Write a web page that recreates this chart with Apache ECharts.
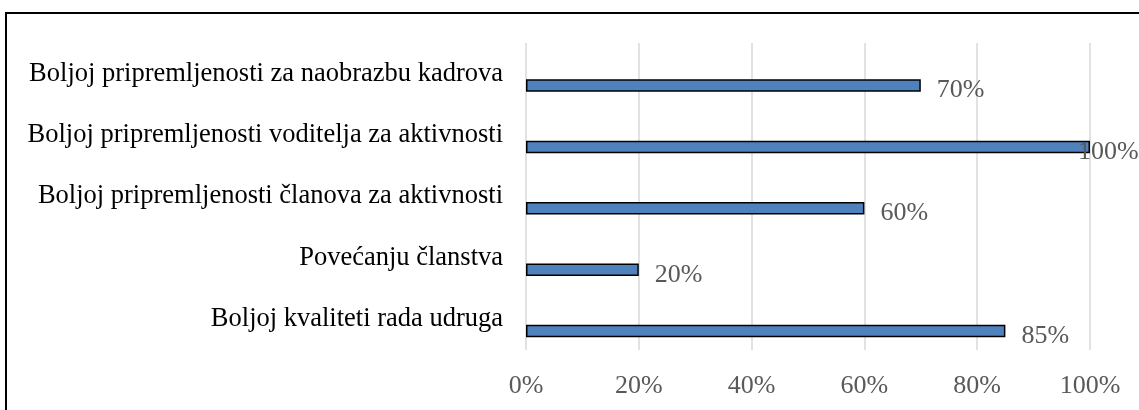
<!DOCTYPE html>
<html><head><meta charset="utf-8">
<script src="https://cdn.jsdelivr.net/npm/echarts@6/dist/echarts.min.js"></script>
<style>
html,body{margin:0;padding:0;background:#fff;}
#frame{position:absolute;left:5px;top:12px;width:1200px;height:500px;border:2px solid #000;box-sizing:border-box;}
#chart{position:absolute;left:0;top:0;width:1139px;height:410px;}
</style></head>
<body>
<div id="frame"></div>
<div id="chart"></div>
<script>
const categories = [
  "Boljoj pripremljenosti za naobrazbu kadrova",
  "Boljoj pripremljenosti voditelja za aktivnosti",
  "Boljoj pripremljenosti članova za aktivnosti",
  "Povećanju članstva",
  "Boljoj kvaliteti rada udruga"
];
const values = [70, 100, 60, 20, 85];
const axisMin = 0, axisMax = 100, axisStep = 20;

const font = "'Liberation Serif', 'Times New Roman', serif";
const chart = echarts.init(document.getElementById('chart'), null, {renderer:'canvas'});
const realData = values.map(v => v >= axisMax ? {value: v, label: {offset: [-28, 5]}} : v);
chart.setOption({
  animation: false,
  grid: {left: 526, right: 49, top: 43, bottom: 60, containLabel: false},
  xAxis: {
    type: 'value', min: axisMin, max: axisMax, interval: axisStep,
    axisLine: {show: false}, axisTick: {show: false},
    splitLine: {show: true, lineStyle: {color: '#d9d9d9', width: 1.5}},
    axisLabel: {formatter: '{value}%', color: '#595959', fontFamily: font, fontSize: 26, margin: 23}
  },
  yAxis: {
    type: 'category', data: categories, inverse: true,
    axisLine: {show: false}, axisTick: {show: false}, splitLine: {show: false},
    axisLabel: {color: '#000', fontFamily: font, fontSize: 26.5, margin: 23}
  },
  series: [
    {type: 'bar', data: values.map(() => null), barWidth: 12.5, barGap: '89%', silent: true},
    {type: 'bar', data: realData, barWidth: 12.5, barGap: '89%',
     itemStyle: {color: '#4f81bd', borderColor: '#000', borderWidth: 1.5},
     label: {show: true, position: 'right', distance: 16, formatter: '{c}%', color: '#595959',
             fontFamily: font, fontSize: 26, offset: [0, 5]}}
  ]
});
</script>
</body></html>
